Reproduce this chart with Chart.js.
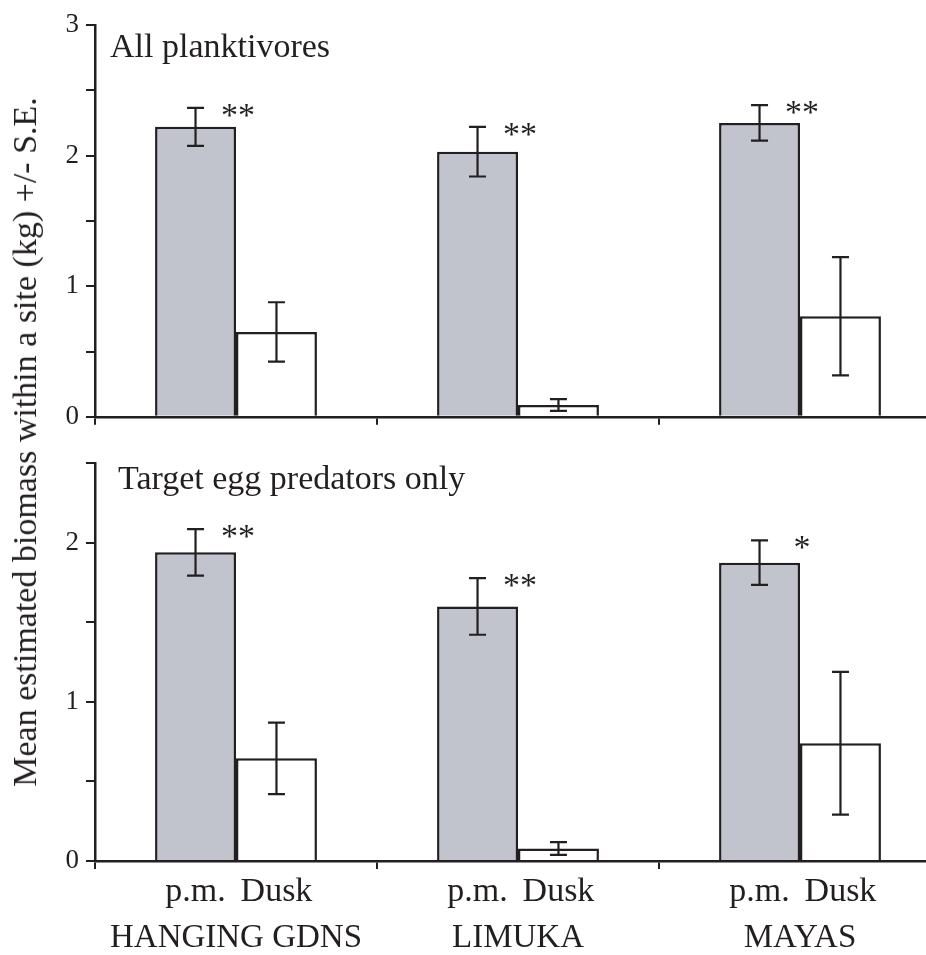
<!DOCTYPE html>
<html>
<head>
<meta charset="utf-8">
<script src="https://cdn.jsdelivr.net/npm/chart.js@4"></script>
<style>
  html, body { margin: 0; padding: 0; background: #fff; overflow: hidden; }
  #wrap { position: relative; width: 926px; height: 955px; overflow: hidden; }
  .panel { position: absolute; left: 0; width: 945px; }
  #topPanel { top: 0; height: 440px; }
  #botPanel { top: 440px; height: 515px; }
  #ytitle {
    position: absolute; left: 25px; top: 442px;
    transform: translate(-50%, -50%) rotate(-90deg);
    white-space: nowrap; line-height: 1;
    font: 34px "Liberation Serif", "Times New Roman", serif; color: #231f20;
  }
</style>
</head>
<body>
<div id="wrap">
  <div class="panel" id="topPanel"><canvas id="topChart"></canvas></div>
  <div class="panel" id="botPanel"><canvas id="botChart"></canvas></div>
  <div id="ytitle">Mean estimated biomass within a site (kg) +/- S.E.</div>
</div>
<script>
const sites = ['HANGING GDNS', 'LIMUKA', 'MAYAS'];
const periods = ['p.m.', 'Dusk'];

// All planktivores
const topPm = [2.22, 2.03, 2.25];
const topPmSe = [0.145, 0.19, 0.136];
const topDusk = [0.65, 0.09, 0.77];
const topDuskSe = [0.227, 0.045, 0.453];
const topSig = ['**', '**', '**'];

// Target egg predators only
const botPm = [1.94, 1.60, 1.875];
const botPmSe = [0.146, 0.178, 0.14];
const botDusk = [0.645, 0.078, 0.74];
const botDuskSe = [0.225, 0.04, 0.449];
const botSig = ['**', '**', '*'];

const ink = '#231f20';
const serif = '"Liberation Serif", "Times New Roman", serif';

// error bars, significance stars, panel title, p.m./Dusk labels
const extras = {
  id: 'extras',
  afterDatasetsDraw(chart, args, opts) {
    const ctx = chart.ctx;
    const yScale = chart.scales.y;
    const area = chart.chartArea;
    ctx.save();
    ctx.strokeStyle = ink;
    ctx.lineWidth = 2.2;
    chart.data.datasets.forEach((ds, i) => {
      const meta = chart.getDatasetMeta(i);
      meta.data.forEach((bar, j) => {
        const v = ds.data[j], se = ds.se[j];
        const yHi = yScale.getPixelForValue(v + se);
        const yLo = yScale.getPixelForValue(v - se);
        ctx.beginPath();
        ctx.moveTo(bar.x, yHi); ctx.lineTo(bar.x, yLo);
        ctx.moveTo(bar.x - 8.5, yHi); ctx.lineTo(bar.x + 8.5, yHi);
        ctx.moveTo(bar.x - 8.5, yLo); ctx.lineTo(bar.x + 8.5, yLo);
        ctx.stroke();
      });
    });

    ctx.fillStyle = ink;
    ctx.font = '34px ' + serif;
    ctx.textAlign = 'center';
    ctx.textBaseline = 'alphabetic';
    const pm = chart.getDatasetMeta(0);
    const pmSet = chart.data.datasets[0];
    pm.data.forEach((bar, j) => {
      const yTop = yScale.getPixelForValue(pmSet.data[j] + pmSet.se[j]);
      ctx.fillText(opts.sig[j], bar.x + bar.width / 2 + 2, yTop + 18);
    });

    if (opts.subLabels) {
      chart.data.datasets.forEach((ds, i) => {
        chart.getDatasetMeta(i).data.forEach(bar => {
          ctx.fillText(periods[i], bar.x, area.bottom + 40);
        });
      });
    }

    ctx.textAlign = 'left';
    ctx.fillText(opts.title, opts.titleX, opts.titleY);
    ctx.restore();
  }
};

function makeChart(id, pm, pmSe, dusk, duskSe, yMax, showLabels, extraOpts, padTop, xHeight) {
  return new Chart(document.getElementById(id), {
    type: 'bar',
    data: {
      labels: sites,
      datasets: [
        { label: periods[0], data: pm, se: pmSe, backgroundColor: '#c1c4cc',
          borderColor: ink, borderWidth: 2.5, borderSkipped: 'bottom' },
        { label: periods[1], data: dusk, se: duskSe, backgroundColor: '#ffffff',
          borderColor: ink, borderWidth: 2.5, borderSkipped: 'bottom' }
      ]
    },
    options: {
      responsive: true,
      maintainAspectRatio: false,
      animation: false,
      layout: { padding: { top: padTop, right: 4, left: 0, bottom: 0 } },
      datasets: { bar: { categoryPercentage: 0.574, barPercentage: 1 } },
      plugins: { legend: { display: false }, tooltip: { enabled: false }, extras: extraOpts },
      scales: {
        x: {
          grid: { drawOnChartArea: false, drawTicks: true, tickLength: 8, color: ink, lineWidth: 2 },
          border: { display: true, color: ink, width: 2.5 },
          ticks: {
            autoSkip: false, maxRotation: 0, color: ink, padding: 50,
            font: { family: serif, size: 33 },
            callback: function (v, i) { return showLabels ? sites[i] : ''; }
          },
          afterFit: s => { s.height = xHeight; }
        },
        y: {
          min: 0, max: yMax,
          grid: { drawOnChartArea: false, drawTicks: true, tickLength: 9, color: ink, lineWidth: 2 },
          border: { display: true, color: ink, width: 2.5 },
          ticks: {
            stepSize: 0.5, color: ink, padding: 7,
            font: { family: serif, size: 27 },
            callback: v => Number.isInteger(v) ? String(v) : ''
          },
          afterFit: s => { s.width = 95; }
        }
      }
    },
    plugins: [extras]
  });
}

makeChart('topChart', topPm, topPmSe, topDusk, topDuskSe, 3, false,
  { sig: topSig, subLabels: false, title: 'All planktivores', titleX: 110, titleY: 57 }, 25, 18);
makeChart('botChart', botPm, botPmSe, botDusk, botDuskSe, 2.5, true,
  { sig: botSig, subLabels: true, title: 'Target egg predators only', titleX: 118, titleY: 49 }, 23, 94);
</script>
</body>
</html>
